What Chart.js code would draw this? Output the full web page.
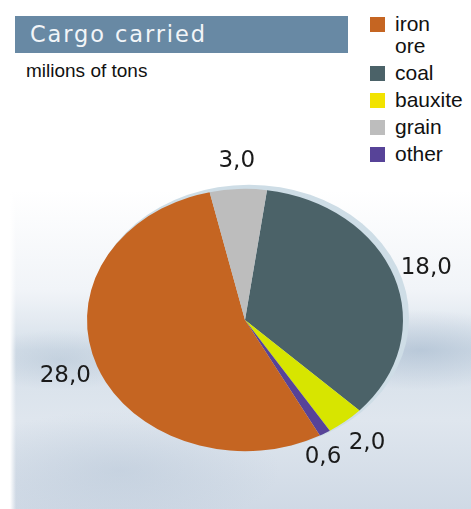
<!DOCTYPE html>
<html>
<head>
<meta charset="utf-8">
<script src="https://cdn.jsdelivr.net/npm/chart.js@4"></script>
<style>
  html, body { margin: 0; padding: 0; }
  body {
    width: 471px; height: 509px; position: relative; overflow: hidden;
    background:
      linear-gradient(to right, #fff 0, #fff 10px, rgba(255,255,255,0) 16px),
      radial-gradient(ellipse 120px 40px at 420px 350px, rgba(150,172,196,0.45), rgba(150,172,196,0)),
      radial-gradient(ellipse 90px 30px at 60px 360px, rgba(160,180,200,0.35), rgba(160,180,200,0)),
      radial-gradient(ellipse 160px 60px at 120px 470px, rgba(170,188,208,0.35), rgba(170,188,208,0)),
      linear-gradient(to bottom, #fff 0, #fff 190px, #f1f4f8 290px, #d6e0ea 350px, #dfe6ee 420px, #cfd9e5 509px);
  }
  #title {
    position: absolute; left: 15px; top: 16px; width: 333px; height: 37px;
    background: #6889a4; color: #f2f5f8;
    font: 22.5px "DejaVu Sans", sans-serif; letter-spacing: 1.9px;
    line-height: 37px; padding-left: 15px; box-sizing: border-box;
  }
  #sub {
    position: absolute; left: 26px; top: 60px;
    font: 19px "Liberation Sans", Arial, sans-serif; color: #111;
  }
  #legend {
    position: absolute; left: 370px; top: 13px;
    font: 21px "Liberation Sans", Arial, sans-serif; color: #111;
  }
  .item { display: flex; align-items: flex-start; margin-bottom: 5px; line-height: 22px; }
  .box { width: 15px; height: 15px; margin-top: 4px; margin-right: 10px; flex: none; }
  canvas { position: absolute; left: 0; top: 0; }
</style>
</head>
<body>
<div id="title">Cargo carried</div>
<div id="sub">milions of tons</div>
<div id="legend"></div>
<canvas id="chart-pie" width="471" height="509"></canvas>
<script>
//PIE DATA (clockwise from the top)
var sliceLabels = ["coal", "bauxite", "other", "iron ore", "grain"];
var sliceValues = [18.0, 2.0, 0.6, 28.0, 3.0];
var sliceColors = ["#4b6268", "#d7e500", "#574398", "#c56522", "#bdbdbd"];

//LEGEND ORDER
var legendLabels = [["iron", "ore"], ["coal"], ["bauxite"], ["grain"], ["other"]];
var legendColors = ["#c56522", "#4b6268", "#f2e300", "#bdbdbd", "#574398"];

var squash = 0.83; // pie is drawn as a flattened ellipse

//LEGEND
var legendEl = document.getElementById("legend");
legendLabels.forEach(function (lines, i) {
  var item = document.createElement("div");
  item.className = "item";
  item.innerHTML = '<div class="box" style="background:' + legendColors[i] + '"></div><div>' + lines.join("<br>") + "</div>";
  legendEl.appendChild(item);
});

//ELLIPSE + SHADOW RING + VALUE LABELS
var ellipsePlugin = {
  id: "ellipse",
  beforeDatasetsDraw: function (chart) {
    var ctx = chart.ctx;
    var arc = chart.getDatasetMeta(0).data[0];
    var cx = arc.x, cy = arc.y, r = arc.outerRadius;
    ctx.save();
    ctx.translate(cx, cy);
    ctx.scale(1, squash);
    ctx.translate(-cx, -cy);
    ctx.beginPath();
    ctx.arc(cx + 4, cy - 3, r + 2, 0, Math.PI * 2);
    ctx.fillStyle = "#cedde6";
    ctx.fill();
  },
  afterDatasetsDraw: function (chart) {
    chart.ctx.restore();
  },
  afterDraw: function (chart) {
    var ctx = chart.ctx;
    var meta = chart.getDatasetMeta(0);
    ctx.save();
    ctx.font = "23px 'DejaVu Sans', sans-serif";
    ctx.fillStyle = "#1a1a1a";
    ctx.textAlign = "center";
    ctx.textBaseline = "middle";
    var prev = null;
    meta.data.forEach(function (arc, i) {
      var a = (arc.startAngle + arc.endAngle) / 2;
      var d = arc.outerRadius + 34;
      var x = arc.x + Math.cos(a) * d;
      var y = arc.y + Math.sin(a) * d * squash;
      // small neighbouring slices: step the label down and left
      if (prev && Math.abs(y - prev.y) < 22 && Math.abs(x - prev.x) < 50) {
        x = prev.x - 44;
        y = prev.y + 14;
      }
      ctx.fillText(sliceValues[i].toFixed(1).replace(".", ","), x, y);
      prev = { x: x, y: y };
    });
    ctx.restore();
  }
};

var config = {
  type: "pie",
  data: {
    labels: sliceLabels,
    datasets: [{
      data: sliceValues,
      backgroundColor: sliceColors,
      borderWidth: 0
    }]
  },
  options: {
    responsive: false,
    animation: false,
    events: [],
    rotation: 8,
    layout: { padding: { left: 87, right: 68, top: 162, bottom: 31 } },
    plugins: {
      legend: { display: false },
      tooltip: { enabled: false }
    }
  },
  plugins: [ellipsePlugin]
};

var ctx = document.getElementById("chart-pie").getContext("2d");
window.myPie = new Chart(ctx, config);
</script>
</body>
</html>
